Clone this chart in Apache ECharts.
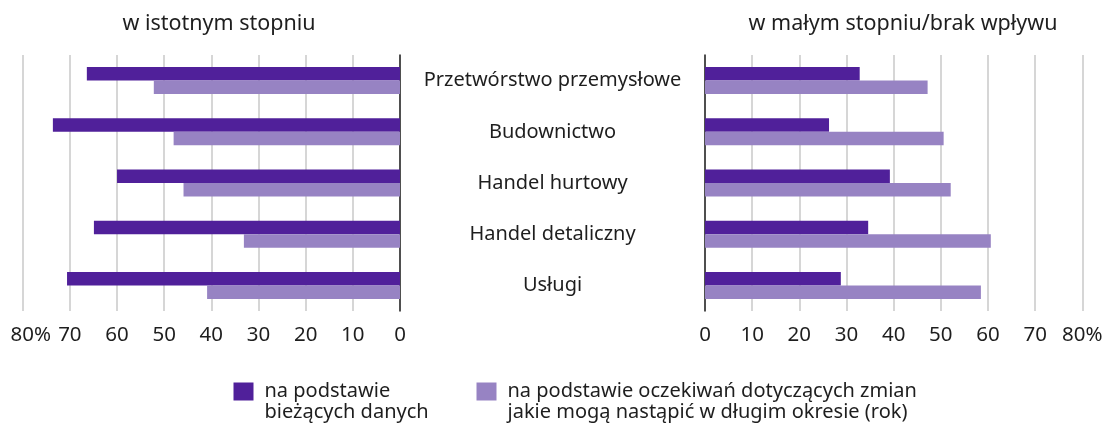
<!DOCTYPE html>
<html>
<head>
<meta charset="utf-8">
<script src="https://cdn.jsdelivr.net/npm/echarts@6/dist/echarts.min.js"></script>
<style>
html,body{margin:0;padding:0;background:#fff;}
#c{width:1103px;height:426px;}
</style>
</head>
<body>
<div id="c"></div>
<script>
const categories = ['Przetwórstwo przemysłowe', 'Budownictwo', 'Handel hurtowy', 'Handel detaliczny', 'Usługi'];
const seriesNames = ['na podstawie\nbieżących danych', 'na podstawie oczekiwań dotyczących zmian\njakie mogą nastąpić w długim okresie (rok)'];
const istotnyBiezace = [66.4, 73.6, 60.0, 64.9, 70.6];
const istotnyOczekiwania = [52.2, 48.0, 45.9, 33.1, 40.9];
const malyBiezace = [32.8, 26.3, 39.2, 34.6, 28.8];
const malyOczekiwania = [47.2, 50.6, 52.1, 60.6, 58.5];
const panelTitles = ['w istotnym stopniu', 'w małym stopniu/brak wpływu'];

const DARK = '#50209a';
const LIGHT = '#9783c3';
const FONT = 'Noto Sans';
const TXT = '#1e1e1e';
const TICK_FS = 20.5;

const chart = echarts.init(document.getElementById('c'), null, {renderer: 'canvas'});

function xLabelLeft(v) {
  return v === 80 ? '{s|}80%' : String(v);
}
function xLabelRight(v) {
  return v === 80 ? '80%' : String(v);
}
const xRich = { s: { width: 16 } };

// square at top of a taller icon box so it aligns with the first text line
const LEGEND_ICON = 'path://M0,0L21,0L21,19L0,19Z M0,41L21,41L21,41Z';

function legendCfg(name, left) {
  return {
    data: [name], left: left, top: 375.5, orient: 'horizontal',
    itemWidth: 20, itemHeight: 41, itemGap: 10, icon: LEGEND_ICON,
    textStyle: { fontFamily: FONT, fontSize: 20, color: TXT, lineHeight: 21.5, padding: [0, 0, 0, 6] }
  };
}

const option = {
  animation: false,
  backgroundColor: '#fff',
  textStyle: { fontFamily: FONT },
  title: [
    { text: panelTitles[0], left: 214, top: 8, textAlign: 'center',
      textStyle: { fontFamily: FONT, fontSize: 21.5, fontWeight: 'normal', color: TXT } },
    { text: panelTitles[1], left: 898, top: 8, textAlign: 'center',
      textStyle: { fontFamily: FONT, fontSize: 21.5, fontWeight: 'normal', color: TXT } }
  ],
  legend: [ legendCfg(seriesNames[0], 228.5), legendCfg(seriesNames[1], 471.5) ],
  grid: [
    { left: 22.7, right: 703, top: 55, bottom: 115, containLabel: false, outerBoundsMode: 'none' },
    { left: 705, right: 20.7, top: 55, bottom: 115, containLabel: false, outerBoundsMode: 'none' }
  ],
  xAxis: [
    { gridIndex: 0, type: 'value', inverse: true, min: 0, max: 80, interval: 10,
      axisLine: { show: false }, axisTick: { show: false },
      splitLine: { show: true, lineStyle: { color: '#c9c9c9', width: 1.5 } },
      axisLabel: { formatter: xLabelLeft, rich: xRich, fontFamily: FONT, fontSize: TICK_FS, color: TXT, margin: 14 } },
    { gridIndex: 1, type: 'value', min: 0, max: 80, interval: 10,
      axisLine: { show: false }, axisTick: { show: false },
      splitLine: { show: true, lineStyle: { color: '#c9c9c9', width: 1.5 } },
      axisLabel: { formatter: xLabelRight, fontFamily: FONT, fontSize: TICK_FS, color: TXT, margin: 14 } }
  ],
  yAxis: [
    { gridIndex: 0, type: 'category', data: categories, inverse: true, position: 'right',
      axisLine: { show: true, lineStyle: { color: '#222', width: 1.5 } },
      axisTick: { show: false },
      axisLabel: { align: 'center', margin: 152.5, fontFamily: FONT, fontSize: 20, color: TXT } },
    { gridIndex: 1, type: 'category', data: categories, inverse: true, position: 'left',
      axisLine: { show: true, lineStyle: { color: '#222', width: 1.5 } },
      axisTick: { show: false },
      axisLabel: { show: false } }
  ],
  series: [
    { name: seriesNames[0], type: 'bar', xAxisIndex: 0, yAxisIndex: 0, data: istotnyBiezace,
      barWidth: 13.5, barGap: '0%', itemStyle: { color: DARK } },
    { name: seriesNames[1], type: 'bar', xAxisIndex: 0, yAxisIndex: 0, data: istotnyOczekiwania,
      barWidth: 13.5, barGap: '0%', itemStyle: { color: LIGHT } },
    { name: seriesNames[0], type: 'bar', xAxisIndex: 1, yAxisIndex: 1, data: malyBiezace,
      barWidth: 13.5, barGap: '0%', itemStyle: { color: DARK } },
    { name: seriesNames[1], type: 'bar', xAxisIndex: 1, yAxisIndex: 1, data: malyOczekiwania,
      barWidth: 13.5, barGap: '0%', itemStyle: { color: LIGHT } }
  ]
};
chart.setOption(option);
</script>
</body>
</html>
